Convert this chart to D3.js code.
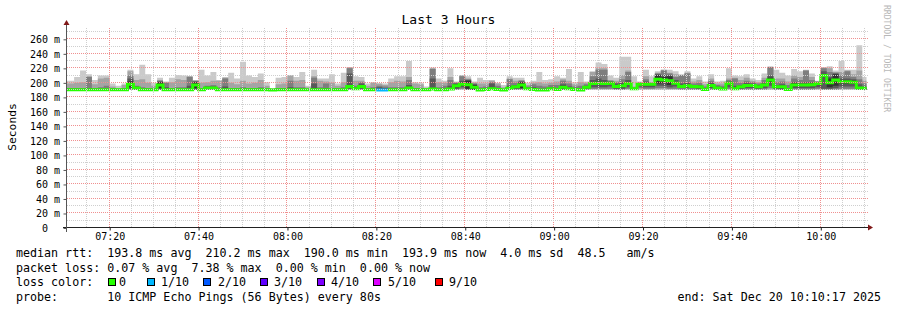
<!DOCTYPE html>
<html>
<head>
<meta charset="utf-8">
<script src="https://cdn.jsdelivr.net/npm/d3@7"></script>
<style>
  body { margin: 0; background: #fff; }
  svg text { font-family: "DejaVu Sans Mono", monospace; white-space: pre; }
</style>
</head>
<body>
<div id="chart"></div>
<script>
const width = 897;
const height = 310;

const STEP = 80;               // seconds between ping rounds
const firstStep = "07:09:20";  // start of first (partial) column
const viewStart = "07:10:17";
const viewEnd = "10:10:17";

// 10 sorted ping rtts (ms) per 80s step
const pings = [
  "190 190 190 190 190 191 192 193 199 203",
  "190 190 190 190 190 191 192 193 199 203",
  "190 190 190 190 190 191 192 193 200 208",
  "190 190 190 190 190 191 192 193 201 217",
  "190 190 190 190 190 191 193 208 209 212",
  "190 190 190 190 190 191 192 193 198 204",
  "190 190 190 190 190 191 192 194 206 210",
  "190 190 190 190 190 191 192 196 207 210",
  "190 190 190 190 190 191 192 193 195 199",
  "190 190 190 190 190 191 191 192 193 196",
  "190 190 190 190 190 191 192 193 197 199",
  "190 190 191 192 194 202 206 210 216 218",
  "190 190 190 191 192 194 195 196 204 212",
  "190 190 190 190 190 191 192 194 205 225",
  "190 190 190 190 190 191 192 193 200 212",
  "190 190 190 190 190 191 192 193 196 200",
  "190 190 190 191 193 201 202 203 204 207",
  "190 190 190 190 190 191 194 200 201 202",
  "190 190 190 190 190 191 192 193 201 207",
  "190 190 190 190 190 191 192 194 205 211",
  "190 190 190 190 190 191 192 194 204 210",
  "190 190 190 190 190 191 196 208 209 209",
  "190 190 190 191 193 201 202 203 203 204",
  "190 190 190 190 190 191 192 193 200 218",
  "190 190 191 191 192 194 195 196 201 210",
  "190 190 191 191 192 194 195 197 203 215",
  "190 190 190 190 190 191 192 194 203 204",
  "190 190 190 190 190 191 195 206 207 208",
  "190 190 190 190 190 191 192 193 200 214",
  "190 190 190 190 190 191 192 193 198 206",
  "190 190 190 190 190 191 192 194 203 229",
  "190 190 190 190 190 191 192 193 199 210",
  "190 190 190 190 190 191 192 193 200 208",
  "190 190 190 190 190 191 192 194 204 213",
  "190 190 190 190 190 191 192 193 196 201",
  "190 190 190 190 190 190 191 191 192 193",
  "190 190 190 190 190 191 192 193 198 207",
  "190 190 190 190 190 191 192 193 199 208",
  "190 190 190 190 190 191 194 203 210 211",
  "190 190 190 190 190 191 192 194 203 208",
  "190 190 190 190 190 191 192 194 204 215",
  "190 190 190 190 190 191 191 192 194 196",
  "190 190 190 190 190 191 199 207 209 218",
  "190 190 190 190 190 191 192 194 203 206",
  "190 190 190 190 190 191 193 199 202 206",
  "190 190 190 190 190 191 192 193 200 212",
  "190 190 190 190 190 191 192 193 196 199",
  "190 190 190 190 190 191 192 194 201 214",
  "190 190 191 192 193 197 213 220 221 222",
  "190 190 190 191 191 193 194 196 203 209",
  "190 190 191 192 193 197 199 201 203 208",
  "190 190 190 190 190 191 192 193 196 199",
  "190 190 190 190 190 191 192 194 200 201",
  "190 190 190 190 190 190 194 196 199 199",
  "190 190 190 190 190 190 193 195 197 199",
  "190 190 190 190 190 191 192 194 201 206",
  "190 190 190 190 190 191 192 194 203 209",
  "190 190 190 190 190 191 192 194 202 209",
  "190 190 191 191 192 194 197 204 208 230",
  "190 190 190 190 190 191 192 193 199 201",
  "190 190 190 190 190 191 192 193 198 200",
  "190 190 190 190 190 191 191 192 193 195",
  "190 190 190 190 191 192 206 219 220 221",
  "190 190 190 190 190 191 192 194 201 206",
  "190 190 190 190 190 191 192 196 200 203",
  "190 190 190 190 191 192 196 204 208 220",
  "190 190 191 192 194 198 199 200 201 202",
  "190 191 192 194 196 200 203 209 210 211",
  "190 190 190 191 192 203 204 205 206 209",
  "190 190 190 190 191 197 198 199 200 202",
  "190 190 190 190 190 190 191 194 199 207",
  "190 190 190 190 191 191 192 195 199 204",
  "190 190 190 191 191 193 199 201 203 204",
  "190 190 190 190 191 191 193 196 199 200",
  "190 190 190 190 190 190 191 192 194 197",
  "190 190 190 191 191 194 196 205 206 209",
  "190 190 191 192 194 195 197 200 203 207",
  "190 190 191 192 193 201 202 203 204 207",
  "190 190 190 191 191 193 194 195 197 200",
  "190 190 190 191 191 191 194 198 200 203",
  "190 190 190 190 190 190 192 196 201 215",
  "190 190 190 190 190 190 192 195 199 204",
  "190 190 190 191 191 193 194 197 200 205",
  "190 190 190 190 191 191 193 197 202 209",
  "190 190 191 191 192 196 198 203 205 207",
  "190 190 190 191 191 193 195 199 203 219",
  "190 190 190 190 191 191 193 195 198 201",
  "190 190 190 190 190 190 192 196 201 215",
  "190 190 191 192 193 195 196 198 200 202",
  "190 191 192 194 197 201 204 209 215 216",
  "190 191 192 194 197 202 206 218 220 228",
  "190 191 192 194 197 201 204 218 220 226",
  "190 191 192 195 198 201 202 203 204 210",
  "190 190 191 192 193 197 199 201 203 207",
  "190 190 191 192 194 198 201 205 211 236",
  "190 191 192 194 197 201 204 215 217 236",
  "190 190 190 191 191 193 193 194 195 209",
  "190 191 193 195 197 199 199 200 201 202",
  "190 191 192 194 197 199 202 205 209 218",
  "190 191 192 194 197 199 199 200 200 209",
  "190 191 193 196 199 211 212 213 214 216",
  "190 191 193 196 200 208 211 217 218 218",
  "190 191 192 194 197 209 211 213 214 218",
  "190 191 192 195 198 201 204 208 212 216",
  "190 190 191 193 194 196 199 211 211 212",
  "190 190 191 193 195 197 200 213 214 216",
  "190 190 191 193 194 196 197 199 202 206",
  "190 190 191 192 194 195 197 200 204 209",
  "190 190 190 190 191 191 193 195 198 202",
  "190 190 191 193 195 198 200 203 206 212",
  "190 190 190 191 192 194 195 197 199 202",
  "190 190 190 191 191 192 194 196 199 203",
  "190 191 192 194 198 201 202 204 206 220",
  "190 190 190 191 191 193 196 206 207 210",
  "190 190 191 192 194 195 197 200 204 209",
  "190 190 191 193 195 198 200 203 207 212",
  "190 190 191 193 195 198 199 201 203 206",
  "190 190 191 192 194 195 197 199 201 204",
  "190 190 191 193 196 198 200 204 207 213",
  "190 191 193 196 201 207 210 222 222 223",
  "190 190 191 192 194 195 197 201 206 218",
  "190 190 190 191 193 196 198 202 206 214",
  "190 190 190 190 191 191 193 197 202 210",
  "190 190 191 193 195 199 201 206 210 219",
  "190 190 191 193 196 198 200 204 208 216",
  "190 190 191 193 196 198 201 217 217 218",
  "190 190 191 193 196 199 201 204 208 213",
  "190 191 192 194 197 201 201 202 202 203",
  "190 190 191 192 208 212 216 220 221 221",
  "190 190 191 192 194 206 208 215 220 223",
  "190 190 191 193 196 212 213 214 215 217",
  "190 191 192 195 199 204 206 210 215 230",
  "190 191 192 195 199 204 206 216 217 218",
  "190 191 192 195 199 203 205 208 212 218",
  "190 190 191 191 192 194 198 205 217 252",
  "190 190 190 191 192 193 195 199 203 208"
];

// lost pings (of 10) per step
const lossCount = [
  0,0,0,0,0,0,0,0,0,0, 0,0,0,0,0,0,0,0,0,0, 0,0,0,0,0,0,0,0,0,0,
  0,0,0,0,0,0,0,0,0,0, 0,0,0,0,0,0,0,0,0,0, 0,0,0,1,1,0,0,0,0,0,
  0,0,0,0,0,0,0,0,0,0, 0,0,0,0,0,0,0,0,0,0, 0,0,0,0,0,0,0,0,0,0,
  0,0,0,0,0,0,0,0,0,0, 0,0,0,0,0,0,0,0,0,0, 0,0,0,0,0,0,0,0,0,0,
  0,0,0,0,0,0,0,0,0,0, 0,0,0,0,0,0
];

const lossLabels = ["0", "1/10", "2/10", "3/10", "4/10", "5/10", "9/10"];
const lossColors = ["#26ff00", "#00b8ff", "#0059ff", "#5e00ff", "#7e00ff", "#dd00ff", "#ff0000"];
const smokeColors = ["#cacaca", "#a4a4a4", "#7e7e7e", "#585858", "#323232"];

const yTicks = d3.range(0, 261, 20);

const legendLines = [
  "median rtt:  193.8 ms avg  210.2 ms max  190.0 ms min  193.9 ms now  4.0 ms sd  48.5   am/s",
  "packet loss: 0.07 % avg  7.38 % max  0.00 % min  0.00 % now",
  "loss color:",
  "probe:       10 ICMP Echo Pings (56 Bytes) every 80s"
];
const endLabel = "end: Sat Dec 20 10:10:17 2025";

const parseTime = d3.timeParse("%H:%M:%S");
const t0 = parseTime(firstStep);

const rows = pings.map((s, i) => {
  const p = s.split(" ").map(Number);
  return { t: new Date(+t0 + i * STEP * 1000), p: p, med: (p[4] + p[5]) / 2, loss: lossCount[i] };
});
const tEnd = new Date(+t0 + rows.length * STEP * 1000);

const plotLeft = 66.5, plotRight = 866.5, plotTop = 28, plotBottom = 228;

const x = d3.scaleTime()
  .domain([parseTime(viewStart), parseTime(viewEnd)])
  .range([plotLeft, plotRight]);

const y = d3.scaleLinear()
  .domain([0, 275.6])
  .range([plotBottom, plotTop]);

const svg = d3.select("#chart")
  .append("svg")
  .attr("width", width)
  .attr("height", height)
  .style("display", "block");

svg.append("rect").attr("width", width).attr("height", height).attr("fill", "#fff");

svg.append("defs").append("clipPath").attr("id", "clip")
  .append("rect")
  .attr("x", plotLeft).attr("y", 15)
  .attr("width", plotRight - plotLeft).attr("height", plotBottom - 15);

const plot = svg.append("g").attr("clip-path", "url(#clip)");

// smoke: pairs of pings from outermost to innermost
const smokePts = rows.concat([{ t: tEnd, p: rows[rows.length - 1].p }]);
smokeColors.forEach((c, i) => {
  plot.append("path")
    .datum(smokePts)
    .attr("fill", c)
    .attr("d", d3.area()
      .curve(d3.curveStepAfter)
      .x(d => x(d.t))
      .y0(d => y(d.p[i]))
      .y1(d => y(d.p[9 - i])));
});

// grid
const grid = svg.append("g").attr("shape-rendering", "crispEdges");
const minorT = d3.timeMinute.every(5).range(x.domain()[0], x.domain()[1]);
minorT.forEach(t => {
  const major = t.getMinutes() % 20 === 0;
  const xp = Math.round(x(t)) - 0.5;
  grid.append("line")
    .attr("x1", xp).attr("x2", xp)
    .attr("y1", plotTop).attr("y2", plotBottom)
    .attr("stroke", major ? "#f09090" : "#cfcfcf")
    .attr("stroke-dasharray", "1,1");
});
d3.range(10, 271, 10).forEach(v => {
  const major = v % 20 === 0;
  const yp = Math.round(y(v)) - 0.5;
  grid.append("line")
    .attr("x1", plotLeft).attr("x2", plotRight + 1)
    .attr("y1", yp).attr("y2", yp)
    .attr("stroke", major ? "#f09090" : "#cfcfcf")
    .attr("stroke-dasharray", "1,1");
});

// median line, coloured by loss
const lossClass = n => n >= 9 ? 6 : n >= 5 ? 5 : n;
const runs = [];
rows.forEach(r => {
  const c = lossClass(r.loss);
  const last = runs[runs.length - 1];
  if (last && last.cls === c) last.rows.push(r);
  else runs.push({ cls: c, rows: [r] });
});
runs.forEach(run => {
  const lastRow = run.rows[run.rows.length - 1];
  const pts = run.rows.map(r => ({ t: r.t, v: r.med }))
    .concat([{ t: new Date(+lastRow.t + STEP * 1000), v: lastRow.med }]);
  plot.append("path")
    .datum(pts)
    .attr("fill", "none")
    .attr("stroke", lossColors[run.cls])
    .attr("stroke-width", 3)
    .attr("d", d3.line().curve(d3.curveStepAfter).x(d => x(d.t)).y(d => y(d.v)));
});

// axes
const axisCol = "#222";
const arrowCol = "#801818";

svg.append("line")
  .attr("x1", 63).attr("x2", 868)
  .attr("y1", plotBottom - 0.5).attr("y2", plotBottom - 0.5)
  .attr("stroke", axisCol);
svg.append("path")
  .attr("d", `M868,${plotBottom - 3.5} L873,${plotBottom - 0.5} L868,${plotBottom + 2.5} Z`)
  .attr("fill", arrowCol);

svg.append("line")
  .attr("x1", plotLeft).attr("x2", plotLeft)
  .attr("y1", 232).attr("y2", 25)
  .attr("stroke", "#555");
svg.append("path")
  .attr("d", `M63.5,25 L69.5,25 L66.5,20 Z`)
  .attr("fill", arrowCol);

const xAxis = svg.append("g")
  .attr("transform", `translate(0,${plotBottom - 0.5})`)
  .call(d3.axisBottom(x)
    .ticks(d3.timeMinute.every(20))
    .tickFormat(d3.timeFormat("%H:%M"))
    .tickSize(3)
    .tickPadding(2.5));
xAxis.select(".domain").remove();
xAxis.selectAll("line").attr("stroke", axisCol);
xAxis.selectAll("text")
  .attr("fill", "#000")
  .style("font-size", "10px")
  .style("font-family", "'DejaVu Sans Mono', monospace");

const yAxis = svg.append("g")
  .attr("transform", `translate(${plotLeft},0)`)
  .call(d3.axisLeft(y)
    .tickValues(yTicks)
    .tickFormat(v => v ? v + " m" : "0  ")
    .tickSize(3)
    .tickPadding(3.5));
yAxis.select(".domain").remove();
yAxis.selectAll("line").attr("stroke", "#555");
yAxis.selectAll("text")
  .attr("fill", "#000")
  .attr("dy", "0.34em")
  .style("font-size", "10px")
  .style("font-family", "'DejaVu Sans Mono', monospace");

// title and labels
svg.append("text")
  .attr("x", width / 2)
  .attr("y", 24)
  .attr("text-anchor", "middle")
  .style("font-size", "13px")
  .text("Last 3 Hours");

svg.append("text")
  .attr("transform", "translate(16,127) rotate(-90)")
  .attr("text-anchor", "middle")
  .style("font-size", "11.3px")
  .text("Seconds");

svg.append("text")
  .attr("transform", "translate(884,5) rotate(90)")
  .attr("fill", "#b8b8b8")
  .style("font-size", "8.1px")
  .text("RRDTOOL / TOBI OETIKER");

// legend
const lineY = [257, 271.5, 286, 300.5];
legendLines.forEach((s, i) => {
  svg.append("text")
    .attr("x", 16)
    .attr("y", lineY[i])
    .style("font-size", "11.66px")
    .text(s);
});

const boxX = [108, 147, 203, 260, 317, 373, 435];
const labelX = [119, 161, 218, 274, 331, 388, 449];
lossLabels.forEach((lab, i) => {
  svg.append("rect")
    .attr("x", boxX[i] + 0.5)
    .attr("y", 278.5)
    .attr("width", 7)
    .attr("height", 7)
    .attr("fill", lossColors[i])
    .attr("stroke", "#000");
  svg.append("text")
    .attr("x", labelX[i])
    .attr("y", lineY[2])
    .style("font-size", "11.66px")
    .text(lab);
});

svg.append("text")
  .attr("x", 881)
  .attr("y", lineY[3])
  .attr("text-anchor", "end")
  .style("font-size", "11.66px")
  .text(endLabel);
</script>
</body>
</html>
